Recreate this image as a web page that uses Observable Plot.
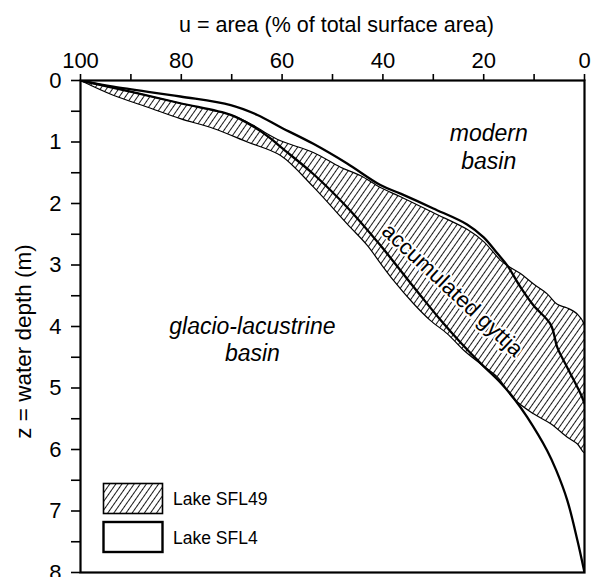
<!DOCTYPE html>
<html><head><meta charset="utf-8">
<script src="https://cdn.jsdelivr.net/npm/d3@7"></script>
<script src="https://cdn.jsdelivr.net/npm/@observablehq/plot@0.6"></script>
<style>
body{margin:0;background:#fff;}
#chart{position:relative;width:595px;height:577px;overflow:hidden;}
</style></head><body>
<svg width="0" height="0" style="position:absolute">
<defs>
<pattern id="hatch" patternUnits="userSpaceOnUse" width="5" height="10" patternTransform="rotate(35)">
<line x1="2.5" y1="-1" x2="2.5" y2="11" stroke="#000" stroke-width="0.9"/>
</pattern>
</defs></svg>
<div id="chart"></div>
<script>
// Lake SFL4, modern basin (solid line, upper)
const sfl4ModernU = [100, 93.5, 80.2, 70.2, 64.9, 60.3, 53.8, 47.1, 40.5, 36.5, 30.0, 23.3, 20.0, 17.3, 15.3, 12.7, 10.1, 6.7, 5.4, 3.4, 0.8, 0];
const sfl4ModernZ = [0, 0.10, 0.26, 0.40, 0.56, 0.76, 1.03, 1.35, 1.70, 1.84, 2.08, 2.34, 2.55, 2.81, 3.01, 3.36, 3.66, 3.97, 4.34, 4.67, 5.09, 5.25];
// Lake SFL4, glacio-lacustrine basin (solid line, lower)
const sfl4GlacioU = [100, 90.1, 80.2, 70.2, 65.7, 62.3, 60.3, 53.8, 47.1, 40.5, 36.5, 32.5, 28.6, 24.6, 20.6, 16.7, 14.0, 11.4, 7.4, 5.6, 3.4, 1.4, 0];
const sfl4GlacioZ = [0, 0.18, 0.37, 0.56, 0.75, 0.94, 1.08, 1.52, 2.06, 2.68, 3.09, 3.50, 3.89, 4.26, 4.60, 4.91, 5.17, 5.47, 6.02, 6.34, 6.83, 7.48, 8.0];
// Lake SFL49, modern basin (upper edge of hatched band)
const sfl49ModernU = [100, 90.1, 80.2, 70.2, 65.7, 63.7, 60.3, 53.8, 48.4, 44.4, 40.5, 36.5, 30.0, 23.3, 20.0, 16.7, 15.3, 12.7, 10.1, 7.4, 5.4, 3.4, 1.4, 0];
const sfl49ModernZ = [0, 0.18, 0.37, 0.56, 0.73, 0.83, 0.98, 1.17, 1.41, 1.55, 1.74, 1.89, 2.15, 2.42, 2.62, 2.92, 3.01, 3.14, 3.31, 3.47, 3.64, 3.70, 3.80, 3.98];
// Lake SFL49, glacio-lacustrine basin (lower edge of hatched band)
const sfl49GlacioU = [100, 93.5, 86.8, 80.2, 73.6, 66.9, 60.3, 53.8, 47.1, 43.1, 40.5, 37.9, 33.9, 30.6, 27.2, 23.9, 20.6, 17.3, 14.1, 10.1, 6.7, 3.4, 1.4, 0];
const sfl49GlacioZ = [0, 0.24, 0.43, 0.62, 0.78, 1.00, 1.22, 1.73, 2.33, 2.68, 2.97, 3.25, 3.63, 3.90, 4.12, 4.39, 4.61, 4.82, 5.17, 5.42, 5.58, 5.80, 5.91, 6.05];

const xTicks = [0, 10, 20, 30, 40, 50, 60, 70, 80, 90, 100];
const yTicks = [0, 0.5, 1, 1.5, 2, 2.5, 3, 3.5, 4, 4.5, 5, 5.5, 6, 6.5, 7, 7.5, 8];
const xTitle = "u = area (% of total surface area)";
const yTitle = "z = water depth (m)";
const regionLabels = ["modern\nbasin", "glacio-lacustrine\nbasin"];
const regionU = [19.0, 65.9];
const regionZ = [1.07, 4.2];
const bandLabel = "accumulated gyttja";
const bandU = 26.2, bandZ = 3.41;
const legendLabels = ["Lake SFL49", "Lake SFL4"];

const toPts = (U, Z) => U.map((u, i) => ({u, z: Z[i]}));
const modern4 = toPts(sfl4ModernU, sfl4ModernZ);
const glacio4 = toPts(sfl4GlacioU, sfl4GlacioZ);
const band49 = toPts(sfl49ModernU, sfl49ModernZ).concat(toPts(sfl49GlacioU, sfl49GlacioZ).reverse());

const font = "Liberation Sans, Arial, Helvetica, sans-serif";
const plot = Plot.plot({
  width: 595, height: 577,
  marginTop: 80, marginLeft: 80, marginRight: 11, marginBottom: 5,
  x: {domain: [100, 0]},
  y: {domain: [0, 8], reverse: true},
  style: {fontFamily: font, background: "white", color: "black"},
  marks: [
    Plot.line(band49, {x: "u", y: "z", fill: "url(#hatch)", stroke: "black", strokeWidth: 1.2, curve: "catmull-rom", clip: true}),
    Plot.line(modern4, {x: "u", y: "z", stroke: "black", strokeWidth: 2.3, curve: "catmull-rom", clip: true}),
    Plot.line(glacio4, {x: "u", y: "z", stroke: "black", strokeWidth: 2.3, curve: "catmull-rom", clip: true}),
    Plot.axisX({anchor: "top", ticks: xTicks, tickFormat: d => d % 20 === 0 ? String(d) : "", tickSize: 7, tickPadding: 6, fontSize: 22, label: null, strokeWidth: 1.6}),
    Plot.axisY({anchor: "left", ticks: yTicks, tickFormat: d => Number.isInteger(d) ? String(d) : "", tickSize: 9, tickPadding: 10, fontSize: 22, label: null, strokeWidth: 1.6}),
    Plot.frame({strokeWidth: 2.2}),
    Plot.text([xTitle], {frameAnchor: "top", dy: -55, dx: 4, fontSize: 21.5, lineAnchor: "middle", textAnchor: "middle"}),
    Plot.text([yTitle], {frameAnchor: "left", dx: -57, dy: 15, rotate: -90, fontSize: 22.5, lineAnchor: "middle", textAnchor: "middle"}),
    Plot.text(regionLabels, {x: (d, i) => regionU[i], y: (d, i) => regionZ[i], text: d => d, fontSize: 23, fontStyle: "italic", lineHeight: 1.18, textAnchor: "middle", lineAnchor: "middle"}),
    Plot.text([bandLabel], {x: () => bandU, y: () => bandZ, text: d => d, rotate: 43, fontSize: 22, textAnchor: "middle", lineAnchor: "middle", stroke: "white", strokeWidth: 4, fill: "black"})
  ]
});
document.getElementById("chart").appendChild(plot);

// legend (inside the plot area, lower left)
const svg = d3.select(plot);
const lg = svg.append("g").attr("font-family", font).attr("font-size", 17.5).attr("text-anchor", "start");
const boxes = [
  {fill: "url(#hatch)", sw: 1.6, y: 483.5},
  {fill: "white", sw: 2.4, y: 522}
];
legendLabels.forEach((t, i) => {
  lg.append("rect").attr("x", 103.5).attr("y", boxes[i].y).attr("width", 59).attr("height", 30)
    .attr("fill", boxes[i].fill).attr("stroke", "black").attr("stroke-width", boxes[i].sw);
  lg.append("text").attr("x", 173).attr("y", boxes[i].y + 21.5).attr("fill", "black").attr("text-anchor", "start").text(t);
});
</script>
</body></html>
